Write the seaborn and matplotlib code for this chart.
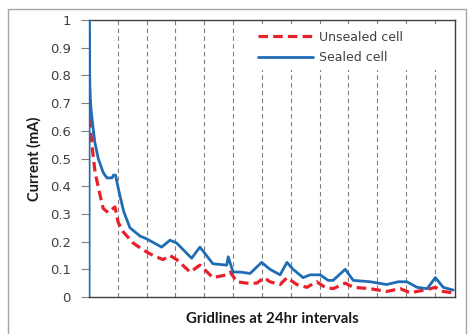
import matplotlib
matplotlib.use("Agg")
import matplotlib.pyplot as plt
from matplotlib.patches import Rectangle
import seaborn as sns
import pandas as pd

sealed_days = [0.0, 0.0, 0.03, 0.06, 0.09, 0.2, 0.32, 0.49, 0.62, 0.8, 0.85, 0.92, 0.96, 1.02,
               1.2, 1.42, 1.77, 2.0, 2.52, 2.81, 3.04, 3.56, 3.85, 4.3, 4.78, 4.83, 5.0, 5.24,
               5.59, 5.99, 6.28, 6.63, 6.87, 7.08, 7.43, 7.67, 8.02, 8.3, 8.47, 8.89, 9.17,
               9.76, 10.33, 10.73, 11.03, 11.38, 11.73, 12.02, 12.29, 12.64]
sealed_ma = [0.0, 1.0, 0.76, 0.69, 0.657, 0.56, 0.50, 0.45, 0.43, 0.43, 0.44, 0.44, 0.42, 0.39,
             0.31, 0.25, 0.22, 0.21, 0.18, 0.205, 0.195, 0.14, 0.18, 0.12, 0.115, 0.145, 0.09,
             0.09, 0.085, 0.125, 0.10, 0.08, 0.125, 0.10, 0.07, 0.08, 0.08, 0.06, 0.06, 0.10,
             0.06, 0.055, 0.045, 0.055, 0.055, 0.035, 0.03, 0.07, 0.035, 0.025]

unsealed_days = [0.03, 0.09, 0.21, 0.38, 0.49, 0.66, 0.9, 1.01, 1.19, 1.53, 1.88, 2.22, 2.57,
                 2.81, 3.04, 3.51, 3.85, 4.3, 4.78, 4.9, 5.13, 5.47, 5.82, 6.08, 6.28, 6.63,
                 6.87, 7.21, 7.56, 7.9, 8.19, 8.47, 8.89, 9.17, 9.76, 10.33, 10.8, 11.15,
                 11.84, 12.02, 12.29, 12.64]
unsealed_ma = [0.646, 0.56, 0.45, 0.37, 0.32, 0.305, 0.325, 0.27, 0.235, 0.195, 0.17, 0.15, 0.135,
               0.15, 0.135, 0.09, 0.115, 0.07, 0.08, 0.09, 0.055, 0.05, 0.05, 0.07, 0.055, 0.045,
               0.07, 0.045, 0.035, 0.055, 0.035, 0.03, 0.05, 0.035, 0.03, 0.02, 0.03, 0.015,
               0.03, 0.035, 0.02, 0.015]

y_ticks = [0, 0.1, 0.2, 0.3, 0.4, 0.5, 0.6, 0.7, 0.8, 0.9, 1]
y_tick_labels = ["0", "0.1", "0.2", "0.3", "0.4", "0.5", "0.6", "0.7", "0.8", "0.9", "1"]
grid_days = [1, 2, 3, 4, 5, 6, 7, 8, 9, 10, 11, 12]

sns.set_theme(style="white")
plt.rcParams['font.family'] = ['DejaVu Sans']

df_s = pd.DataFrame({"day": sealed_days, "ma": sealed_ma})
df_u = pd.DataFrame({"day": unsealed_days, "ma": unsealed_ma})

fig = plt.figure(figsize=(4.68, 3.34), dpi=100)
fig.patch.set_facecolor("white")
fig.patches.append(Rectangle((8 / 468, -0.05), (466 - 8) / 468, 1 - 9 / 334 + 0.05,
                             transform=fig.transFigure, fill=False,
                             edgecolor="#a6a6a6", linewidth=1.0))
ax = fig.add_axes([89 / 468, 1 - 297 / 334, (455 - 89) / 468, (297 - 20) / 334])

for g in grid_days:
    ax.axvline(g, color="#7f7f7f", linestyle=(0, (4, 3)), linewidth=0.8, zorder=1)

# white area behind the legend (hides the gridlines there)
ax.add_patch(Rectangle((0.41, 0.82), 0.58, 0.166, transform=ax.transAxes,
                       facecolor="white", edgecolor="none", zorder=1.5))

sns.lineplot(data=df_u, x="day", y="ma", ax=ax, color="#e8202a", linewidth=2.3,
             linestyle=(0, (3, 1.6)), label="Unsealed cell", sort=False, estimator=None, zorder=3)
sns.lineplot(data=df_s, x="day", y="ma", ax=ax, color="#1f6db4", linewidth=2.0,
             label="Sealed cell", sort=False, estimator=None, zorder=4)

ax.set_xlim(0, 12.7)
ax.set_ylim(0, 1)
ax.set_xticks([])
ax.set_yticks(y_ticks)
ax.set_yticklabels(y_tick_labels, fontsize=9.5, color="#404040")
ax.tick_params(axis="y", which="both", left=True, length=6, width=0.8, color="#808080", pad=7)
ax.set_xlabel("Gridlines at 24hr intervals", fontsize=10.8, fontweight="bold",
              family=["Lato"], labelpad=11, color="#1a1a1a")
ax.set_ylabel("Current (mA)", fontsize=10.5, fontweight="bold", family=["Lato"],
              labelpad=6, color="#1a1a1a")

for side in ["top", "right", "bottom"]:
    ax.spines[side].set_color("#404040")
    ax.spines[side].set_linewidth(1.0)
ax.spines["left"].set_color("#1f6db4")
ax.spines["left"].set_linewidth(1.0)

leg = ax.legend(loc="upper left", bbox_to_anchor=(0.4617, 0.962), frameon=False, fontsize=9,
                handlelength=4.4, handletextpad=0.48, labelspacing=0.62, borderaxespad=0.0,
                borderpad=0.0)
for t in leg.get_texts():
    t.set_color("#404040")

fig.savefig("out.png", dpi=100)
